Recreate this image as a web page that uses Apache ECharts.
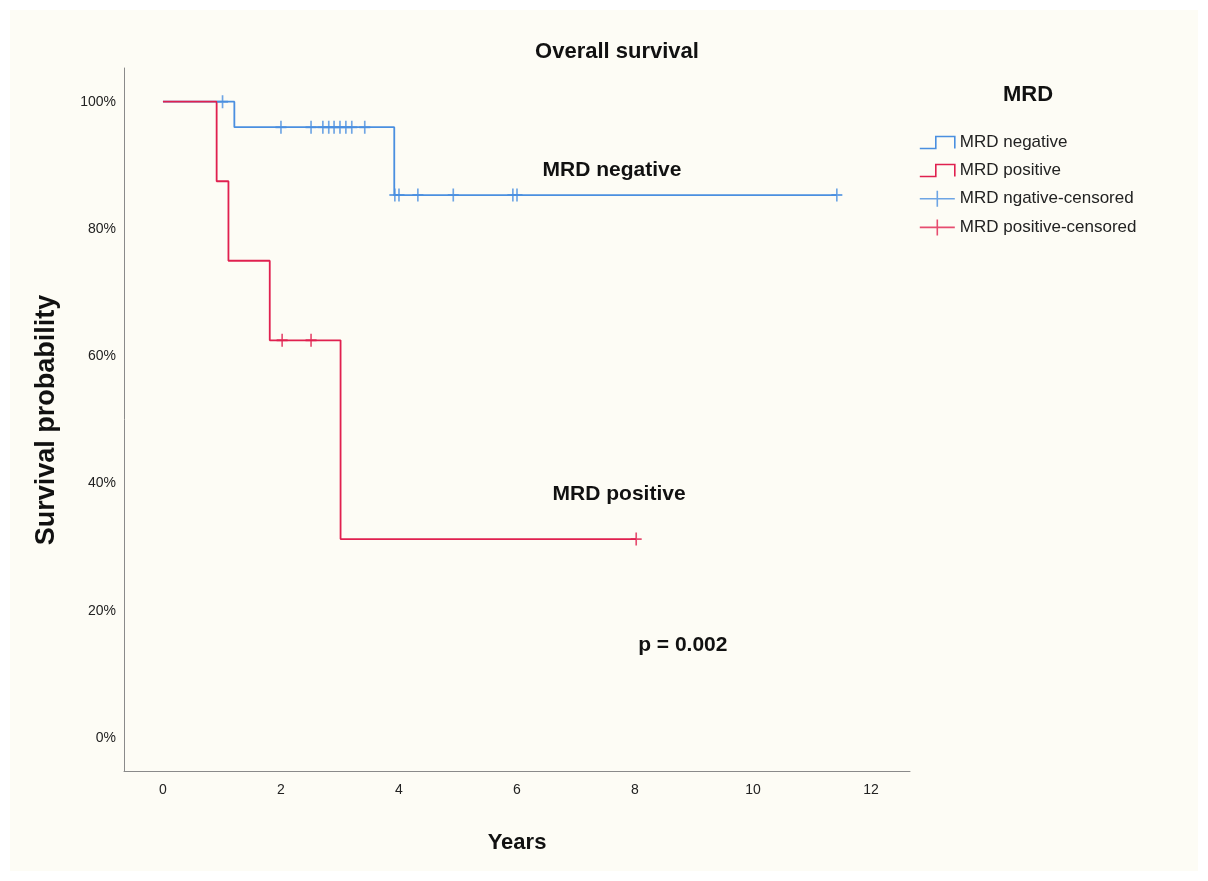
<!DOCTYPE html>
<html><head><meta charset="utf-8">
<script src="https://cdn.jsdelivr.net/npm/echarts@6/dist/echarts.min.js"></script>
<style>html,body{margin:0;padding:0;background:#ffffff}#c{width:1208px;height:881px}</style>
</head><body><div id="c"></div>
<script>
// ---- data ----
const chartTitle = 'Overall survival';
const xAxisTitle = 'Years';
const yAxisTitle = 'Survival probability';
const legendTitle = 'MRD';
const xTickValues = [0, 2, 4, 6, 8, 10, 12];
const yTickValues = [0, 0.2, 0.4, 0.6, 0.8, 1];
const negTimes = [0, 1.21, 3.92, 11.42];
const negSurv = [1, 0.96, 0.8533, 0.8533];
const posTimes = [0, 0.91, 1.11, 1.81, 3.01, 8.02];
const posSurv = [1, 0.875, 0.75, 0.625, 0.3125, 0.3125];
const negCensorTimes = [1.01, 2.0, 2.51, 2.71, 2.81, 2.9, 3.0, 3.1, 3.2, 3.42, 3.93, 4.0, 4.32, 4.92, 5.93, 6.0, 11.42];
const negCensorSurv = [1, 0.96, 0.96, 0.96, 0.96, 0.96, 0.96, 0.96, 0.96, 0.96, 0.8533, 0.8533, 0.8533, 0.8533, 0.8533, 0.8533, 0.8533];
const posCensorTimes = [2.02, 2.51, 8.02];
const posCensorSurv = [0.625, 0.625, 0.3125];
const seriesNames = ['MRD negative', 'MRD positive', 'MRD ngative-censored', 'MRD positive-censored'];
const annotationTexts = ['MRD negative', 'MRD positive', 'p = 0.002'];
const annotationAnchors = [[7.61, 0.892], [7.73, 0.383], [8.81, 0.146]];

// ---- styles ----
const FONT = '"Liberation Sans", Arial, sans-serif';
const BLUE = '#4a8fe0';
const RED = '#e0204f';
const zip = (a, b) => a.map((v, i) => [v, b[i]]);
const plusPath = 'path://M0,6.5L11,6.5M5.5,0L5.5,13';
const stepIcon = 'path://M0,13L16,13L16,1L35,1L35,13';
const plusIcon = 'path://M0,8L35,8M17.5,0L17.5,16';

const chart = echarts.init(document.getElementById('c'), null, {renderer: 'canvas'});
const option = {
  backgroundColor: '#ffffff',
  animation: false,
  title: {
    text: chartTitle, left: 612, top: 36, textAlign: 'center',
    textStyle: {fontFamily: FONT, fontSize: 22, fontWeight: 'bold', color: '#111'}
  },
  grid: {left: 124, top: 68, right: 298, bottom: 110},
  xAxis: {
    type: 'value', min: -0.66, max: 12.66,
    axisLine: {show: true, onZero: false, lineStyle: {color: '#8a8a8a', width: 1}},
    axisTick: {show: false},
    splitLine: {show: false},
    axisLabel: {customValues: xTickValues, margin: 12, fontFamily: FONT, fontSize: 14, color: '#222'}
  },
  yAxis: {
    type: 'value', min: -0.052, max: 1.053,
    axisLine: {show: true, onZero: false, lineStyle: {color: '#8a8a8a', width: 1}},
    axisTick: {show: false},
    splitLine: {show: false},
    axisLabel: {customValues: yTickValues, margin: 8, fontFamily: FONT, fontSize: 14, color: '#222',
      formatter: v => Math.round(v * 100) + '%'}
  },
  legend: {
    orient: 'vertical', left: 914, top: 129, itemWidth: 35, itemHeight: 16, itemGap: 11,
    textStyle: {fontFamily: FONT, fontSize: 17, color: '#222'},
    data: [
      {name: seriesNames[0], icon: stepIcon, itemStyle: {color: 'rgba(0,0,0,0)', borderColor: BLUE, borderWidth: 1.6}},
      {name: seriesNames[1], icon: stepIcon, itemStyle: {color: 'rgba(0,0,0,0)', borderColor: RED, borderWidth: 1.6}},
      {name: seriesNames[2], icon: plusIcon, itemStyle: {color: 'rgba(0,0,0,0)', borderColor: BLUE, borderWidth: 1.6}},
      {name: seriesNames[3], icon: plusIcon, itemStyle: {color: 'rgba(0,0,0,0)', borderColor: RED, borderWidth: 1.6}}
    ]
  },
  series: [
    {name: seriesNames[0], type: 'line', step: 'end', data: zip(negTimes, negSurv), showSymbol: false,
      lineStyle: {color: BLUE, width: 1.8}, itemStyle: {color: BLUE}, z: 2},
    {name: seriesNames[1], type: 'line', step: 'end', data: zip(posTimes, posSurv), showSymbol: false,
      lineStyle: {color: RED, width: 1.8}, itemStyle: {color: RED}, z: 3},
    {name: seriesNames[2], type: 'scatter', data: zip(negCensorTimes, negCensorSurv), symbol: plusPath, symbolSize: [11, 13],
      itemStyle: {color: 'rgba(0,0,0,0)', borderColor: BLUE, borderWidth: 1.8}, z: 4},
    {name: seriesNames[3], type: 'scatter', data: zip(posCensorTimes, posCensorSurv), symbol: plusPath, symbolSize: [11, 13],
      itemStyle: {color: 'rgba(0,0,0,0)', borderColor: RED, borderWidth: 1.8}, z: 5}
  ],
  graphic: [
    {type: 'rect', id: 'bg', z: -10, silent: true, shape: {x: 10, y: 10, width: 1188, height: 861}, style: {fill: '#fdfcf5'}},
    {type: 'text', id: 'legTitle', x: 1028, y: 95, style: {text: legendTitle, fontFamily: FONT, fontSize: 22, fontWeight: 'bold', fill: '#111', align: 'center', verticalAlign: 'middle'}},
    {type: 'text', id: 'yTitle', x: 47, y: 420, rotation: Math.PI / 2, style: {text: yAxisTitle, fontFamily: FONT, fontSize: 27, fontWeight: 'bold', fill: '#111', align: 'center', verticalAlign: 'middle'}},
    {type: 'text', id: 'xTitle', x: 517, y: 843, style: {text: xAxisTitle, fontFamily: FONT, fontSize: 22, fontWeight: 'bold', fill: '#111', align: 'center', verticalAlign: 'middle'}}
  ]
};
chart.setOption(option);
const ann = annotationTexts.map((t, i) => {
  const p = chart.convertToPixel({gridIndex: 0}, annotationAnchors[i]);
  return {type: 'text', id: 'ann' + i, x: p[0], y: p[1], style: {text: t, fontFamily: FONT, fontSize: 21, fontWeight: 'bold', fill: '#111', align: 'center', verticalAlign: 'middle'}};
});
chart.setOption({graphic: ann});
</script>
</body></html>
